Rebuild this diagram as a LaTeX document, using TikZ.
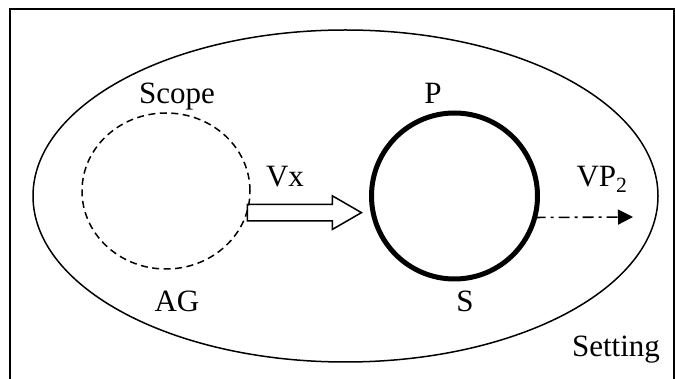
\documentclass[tikz,border=0pt]{standalone}
\usepackage{fontspec}
\setmainfont{Liberation Serif}
\usetikzlibrary{shapes.geometric,shapes.arrows,arrows.meta}

\begin{document}
\begin{tikzpicture}[x=1pt, y=-1pt,
    font=\fontsize{31}{37}\selectfont,
    lbl/.style={anchor=base, inner sep=0},
    ring/.style={draw, ellipse, inner sep=0, outer sep=0, line width=1.5pt},
    hollowarrow/.style={draw, single arrow, single arrow head extend=8.5pt,
        single arrow tip angle=60, inner xsep=0, inner ysep=7.5pt,
        minimum height=114pt, line width=1.5pt, anchor=tail},
    dashdot/.style={line width=1.6pt, dash pattern=on 11pt off 5pt on 3pt off 5pt}]

    \useasboundingbox (0,0) rectangle (675,379);
    \clip (0,0) rectangle (675,379);

    % frame
    \draw[line width=2pt] (9.5,390) -- (9.5,9.5) -- (673.5,9.5) -- (673.5,390);

    % Setting, Scope and P/S rings
    \node[ring, minimum width=625pt, minimum height=332pt] (setting) at (345.5,196) {};
    \node[ring, dash pattern=on 7pt off 4.5pt, minimum width=168pt, minimum height=156pt]
        (scope) at (166,191) {};
    \node[draw, circle, line width=5pt, minimum size=166pt, inner sep=0, outer sep=0]
        (plane) at (454.5,196) {};

    % labels
    \node[lbl] (scopelbl) at (177,104) {Scope};
    \node[lbl] (aglbl) at (177,312) {AG};
    \node[lbl] (plbl) at (433,104) {P};
    \node[lbl] (slbl) at (465,312) {S};
    \node[lbl] (vxlbl) at (285,187) {Vx};
    \node[lbl] (vplbl) at (602,187) {VP\textsubscript{2}};
    \node[lbl] (settinglbl) at (616,356) {Setting};

    % Vx: hollow arrow from scope to plane
    \node[hollowarrow] (push) at (scope.-15) {};

    % VP2: dash-dot arrow out of the plane
    \coordinate (vpend) at (633,217);
    \draw[dashdot, -{Triangle[length=15pt, width=15pt]}] (plane.-15) -- (vpend);

\end{tikzpicture}
\end{document}
